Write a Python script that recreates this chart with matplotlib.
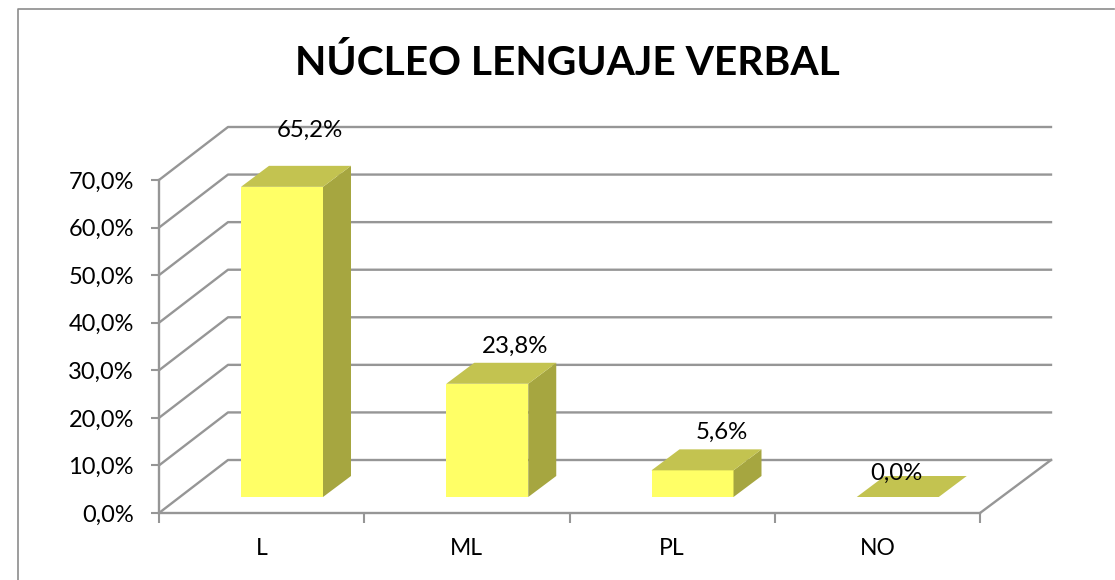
import matplotlib
matplotlib.use("Agg")
import matplotlib.pyplot as plt
from matplotlib.patches import Polygon

plt.rcParams['font.family'] = ['Lato', 'DejaVu Sans']

categories = ["L", "ML", "PL", "NO"]
values = [65.2, 23.8, 5.6, 0.0]
value_labels = ["65,2%", "23,8%", "5,6%", "0,0%"]
ticks = [0, 10, 20, 30, 40, 50, 60, 70]
tick_labels = ["0,0%", "10,0%", "20,0%", "30,0%", "40,0%", "50,0%", "60,0%", "70,0%"]
title = "NÚCLEO LENGUAJE VERBAL"

W, H = 1115, 580
fig = plt.figure(figsize=(W / 100, H / 100), dpi=100, facecolor="white")

# axes box in pixels: front face of the 3d plot
left, right, top, bottom = 159, 980, 180, 513
ax = fig.add_axes([left / W, 1 - bottom / H, (right - left) / W, (bottom - top) / H])
ax.set_xlim(0, 4)
ax.set_ylim(0, 70)
ax.patch.set_alpha(0)

xu = (right - left) / 4
yu = (bottom - top) / 70
# depth of the floor (px converted to data units)
dx_l, dx_r, dy = 69 / xu, 71 / xu, 53 / yu

grid = "#969696"
for t in ticks:
    ax.plot([0, dx_l, 4 + dx_r], [t, t + dy, t + dy], color=grid, lw=1.7, clip_on=False, zorder=1)
ax.plot([4, 4 + dx_r], [0, dy], color=grid, lw=1.7, clip_on=False, zorder=1)

# bars
bw = 82 / xu
bdx, bdy = 28 / xu, 21 / yu
y0 = 16 / yu
# label shift from the bar centre, px
label_dx = [28, 28, 29, -1]
label_dy = [35, 16, 17, 3]
for i, v in enumerate(values):
    x0 = i + (241 - left) / xu
    x1 = x0 + bw
    yt = y0 + v
    if v > 0:
        ax.add_patch(Polygon([(x0, y0), (x1, y0), (x1, yt), (x0, yt)], fc="#ffff66", ec="none", clip_on=False, zorder=3))
        ax.add_patch(Polygon([(x1, y0), (x1 + bdx, y0 + bdy), (x1 + bdx, yt + bdy), (x1, yt)], fc="#a6a640", ec="none", clip_on=False, zorder=3))
    ax.add_patch(Polygon([(x0, yt), (x1, yt), (x1 + bdx, yt + bdy), (x0 + bdx, yt + bdy)], fc="#c3c350", ec="none", clip_on=False, zorder=3))
    ax.text(x0 + bw / 2 + label_dx[i] / xu, yt + bdy + label_dy[i] / yu, value_labels[i], ha="center", va="center",
            fontsize=17.3, color="black", zorder=4)

ax.set_yticks(ticks)
ax.set_yticklabels(tick_labels, fontsize=17)
ax.set_xticks([0, 1, 2, 3, 4])
ax.set_xticklabels([])
ax.set_xticks([0.5, 1.5, 2.5, 3.5], minor=True)
ax.set_xticklabels(categories, minor=True, fontsize=16.5)
ax.tick_params(axis="y", length=6, color=grid, width=1.5, pad=12)
ax.tick_params(axis="x", which="major", length=7, color=grid, width=1.5)
ax.tick_params(axis="x", which="minor", length=0, pad=18)

for s in ["top", "right"]:
    ax.spines[s].set_visible(False)
for s in ["left", "bottom"]:
    ax.spines[s].set_color(grid)
    ax.spines[s].set_linewidth(1.7)

fig.text(567 / W, 1 - 63 / H, title, ha="center", va="center", fontsize=29.3, fontweight="bold", color="black")

# outer chart border
fig.add_artist(plt.Line2D([18 / W, 18 / W, 1114 / W], [0, 1 - 9 / H, 1 - 9 / H], color="#8c8c8c", lw=1.2))

fig.savefig("out.png", dpi=100)
